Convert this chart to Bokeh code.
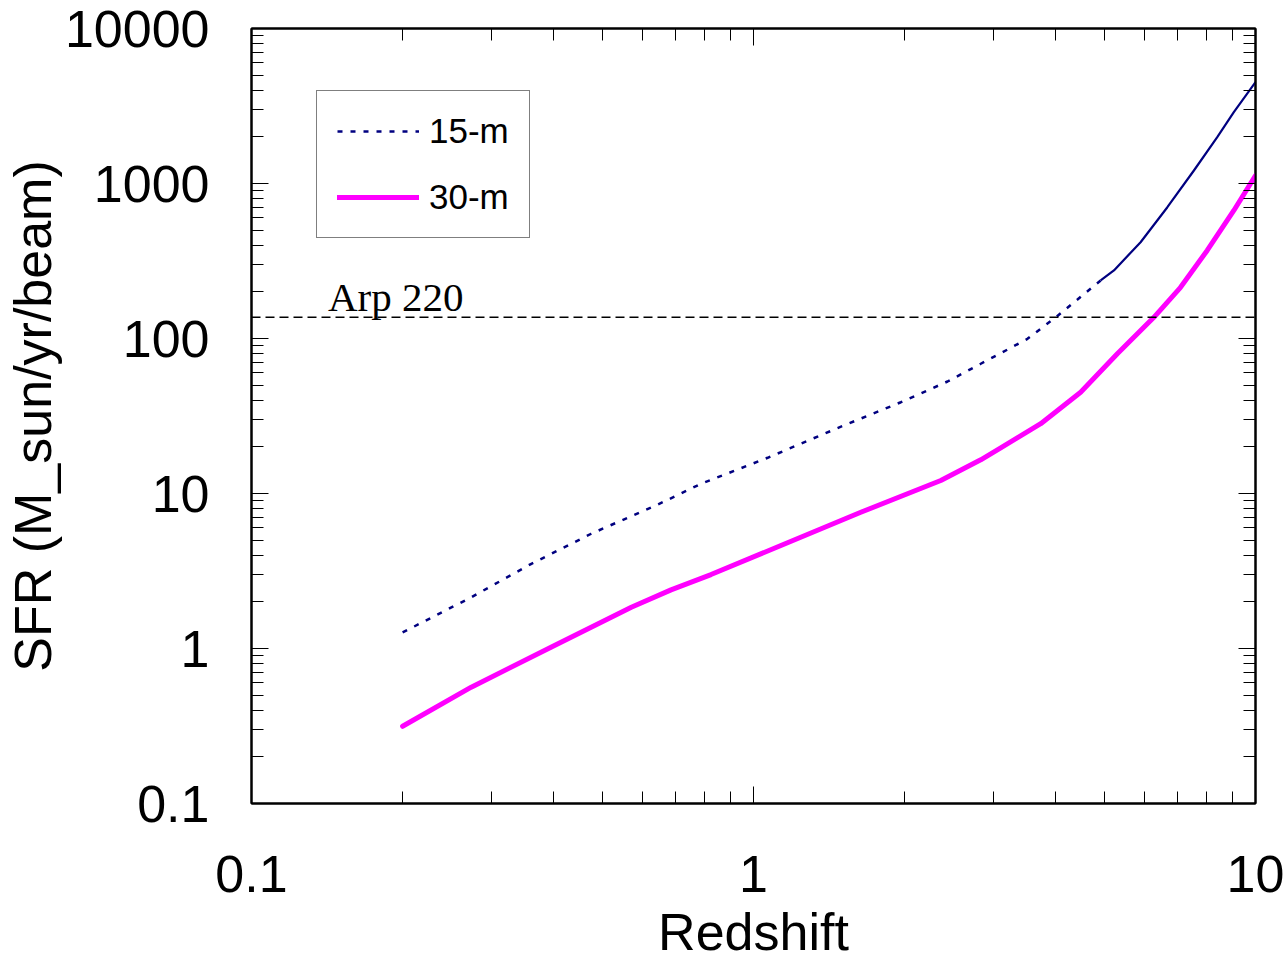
import numpy as np
from bokeh.plotting import figure
from bokeh.models import (Range1d, LogAxis, FixedTicker, CustomJSTickFormatter,
                          Span, Label, Legend, LegendItem)
from bokeh.embed import file_html
from bokeh.resources import INLINE

# Sensitivity limits in star-formation rate per beam versus redshift
redshift_15m = [0.2, 0.274, 0.361, 0.475, 0.645, 0.786, 1.067, 1.486, 1.966,
                2.435, 2.836, 3.108, 3.513, 4.0, 4.915, 5.224, 5.903, 6.675,
                7.539, 8.391, 9.054, 10.0]
sfr_15m = [1.27, 2.14, 3.52, 5.50, 8.49, 11.55, 17.0, 26.8, 38.8,
           52.8, 68.7, 80.4, 99.5, 137, 237, 275, 418, 703,
           1213, 1990, 2884, 4505]

redshift_30m = [0.2, 0.274, 0.395, 0.571, 0.685, 0.823, 1.134, 1.636, 2.361,
                2.836, 3.108, 3.734, 4.484, 5.306, 6.275, 7.091, 8.013, 9.054,
                10.0]
sfr_30m = [0.315, 0.563, 1.02, 1.847, 2.39, 3.0, 4.62, 7.57, 12.13,
           16.5, 19.7, 28.2, 45.0, 79.7, 137, 214, 370, 670,
           1126]

arp220_sfr = 137

x_ticks = [0.1, 1, 10]
x_tick_labels = ["0.1", "1", "10"]
y_ticks = [0.1, 1, 10, 100, 1000, 10000]
y_tick_labels = ["0.1", "1", "10", "100", "1000", "10000"]

FONT = "Liberation Sans"
LABEL_SIZE = "52px"


def minor_positions(majors):
    out = []
    for m in majors[:-1]:
        out += [m * k for k in range(2, 10)]
    return out


def label_formatter(values, texts):
    return CustomJSTickFormatter(
        args=dict(tick_values=values, tick_texts=texts),
        code="""
        for (let i = 0; i < tick_values.length; i++) {
            if (Math.abs(Math.log10(tick_values[i]) - Math.log10(tick)) < 1e-6) return tick_texts[i];
        }
        return '';
        """)


p = figure(width=1285, height=963, output_backend="svg", toolbar_location=None,
           x_axis_type="log", y_axis_type="log",
           x_range=Range1d(0.1, 10), y_range=Range1d(0.1, 10000),
           min_border_left=250, min_border_right=30,
           min_border_top=28, min_border_bottom=160)
p.grid.visible = False
p.outline_line_color = "black"
p.outline_line_width = 2
p.background_fill_color = "white"
p.border_fill_color = "white"

xt = FixedTicker(ticks=x_ticks, minor_ticks=minor_positions(x_ticks))
yt = FixedTicker(ticks=y_ticks, minor_ticks=minor_positions(y_ticks))


def style_axis(ax, ticker):
    ax.ticker = ticker
    ax.axis_line_color = "black"
    ax.axis_line_width = 2
    ax.major_tick_in = 17
    ax.major_tick_out = 0
    ax.minor_tick_in = 12
    ax.minor_tick_out = 0
    ax.major_tick_line_color = "black"
    ax.minor_tick_line_color = "black"
    ax.major_tick_line_width = 1
    ax.minor_tick_line_width = 1
    ax.major_label_text_color = "black"
    ax.axis_label_text_color = "black"


xa = p.xaxis[0]
style_axis(xa, xt)
xa.formatter = label_formatter(x_ticks, x_tick_labels)
xa.major_label_text_font = FONT
xa.major_label_text_font_size = LABEL_SIZE
xa.major_label_standoff = 52
xa.axis_label = "Redshift"
xa.axis_label_text_font = FONT
xa.axis_label_text_font_size = LABEL_SIZE
xa.axis_label_text_font_style = "normal"
xa.axis_label_standoff = 8

ya = p.yaxis[0]
style_axis(ya, yt)
ya.formatter = label_formatter(y_ticks, y_tick_labels)
ya.major_label_text_font = FONT
ya.major_label_text_font_size = LABEL_SIZE
ya.major_label_standoff = 42
ya.axis_label = "SFR (M_sun/yr/beam)"
ya.axis_label_text_font = FONT
ya.axis_label_text_font_size = LABEL_SIZE
ya.axis_label_text_font_style = "normal"
ya.axis_label_standoff = 0

# mirrored tick-only axes on top and right
blank = CustomJSTickFormatter(code="return '';")
top = LogAxis()
style_axis(top, xt)
top.formatter = blank
top.major_label_text_font_size = "8px"
top.major_label_standoff = 0
p.add_layout(top, "above")

right = LogAxis()
style_axis(right, yt)
right.formatter = blank
right.major_label_text_font_size = "8px"
right.major_label_standoff = 0
p.add_layout(right, "right")

# Arp 220 reference level
p.add_layout(Span(location=arp220_sfr, dimension="width", line_color="black",
                  line_width=1.5, line_dash="9 5"))
p.add_layout(Label(x=0.142, y=arp220_sfr, y_offset=20, text="Arp 220",
                   text_font="Liberation Serif", text_font_size="41px",
                   text_color="black", text_baseline="alphabetic"))

# 15-m curve: dotted at low redshift, continuous once it steepens
z15 = np.array(redshift_15m)
s15 = np.array(sfr_15m)
k = int(np.argmax(z15 >= 4.9))
r15 = p.line(z15[:k + 1], s15[:k + 1], line_color="#000080", line_width=2.5,
             line_dash="5 8", line_join="round")
p.line(z15[k:], s15[k:], line_color="#000080", line_width=2.2, line_join="round")
r30 = p.line(redshift_30m, sfr_30m, line_color="#FF00FF", line_width=5,
             line_join="round", line_cap="round")

legend = Legend(items=[LegendItem(label="15-m", renderers=[r15]),
                       LegendItem(label="30-m", renderers=[r30])],
                location=(65, 565), orientation="vertical",
                border_line_color="black", border_line_width=1,
                background_fill_color="white", background_fill_alpha=1,
                label_text_font=FONT, label_text_font_size="35px",
                label_text_color="black",
                glyph_width=82, glyph_height=28, label_height=28,
                label_standoff=10, padding=20, spacing=26, margin=0)
p.add_layout(legend)

open("out.html", "w").write(file_html(p, INLINE))
